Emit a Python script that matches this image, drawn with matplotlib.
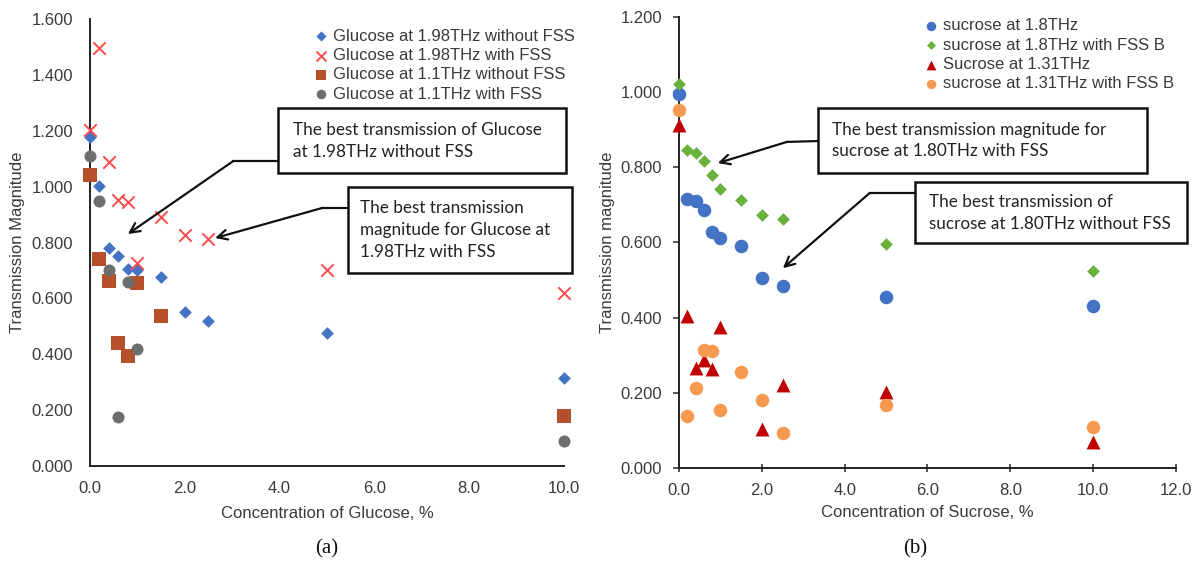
import matplotlib
matplotlib.use("Agg")
import matplotlib.pyplot as plt
from matplotlib.patches import Rectangle
from matplotlib.lines import Line2D

plt.rcParams['font.family'] = ['Liberation Sans', 'DejaVu Sans']

# ---------------- data: glucose (a) ----------------
glu_x_198_no = [0, 0.2, 0.4, 0.6, 0.8, 1.0, 1.5, 2.0, 2.5, 5.0, 10.0]
glu_y_198_no = [1.178, 1.003, 0.782, 0.752, 0.705, 0.703, 0.676, 0.553, 0.520, 0.477, 0.316]
glu_x_198_fss = [0, 0.2, 0.4, 0.6, 0.8, 1.0, 1.5, 2.0, 2.5, 5.0, 10.0]
glu_y_198_fss = [1.203, 1.497, 1.088, 0.952, 0.945, 0.726, 0.891, 0.826, 0.811, 0.701, 0.620]
glu_x_11_no = [0, 0.2, 0.4, 0.6, 0.8, 1.0, 1.5, 10.0]
glu_y_11_no = [1.043, 0.742, 0.662, 0.440, 0.394, 0.655, 0.538, 0.180]
glu_x_11_fss = [0, 0.2, 0.4, 0.6, 0.8, 1.0, 10.0]
glu_y_11_fss = [1.108, 0.950, 0.700, 0.175, 0.658, 0.418, 0.088]

# ---------------- data: sucrose (b) ----------------
suc_x = [0, 0.2, 0.4, 0.6, 0.8, 1.0, 1.5, 2.0, 2.5, 5.0, 10.0]
suc_y_18 = [0.995, 0.717, 0.710, 0.687, 0.627, 0.613, 0.590, 0.506, 0.483, 0.455, 0.430]
suc_y_18_fss = [1.022, 0.845, 0.838, 0.817, 0.780, 0.742, 0.713, 0.674, 0.662, 0.597, 0.523]
suc_y_131_fss = [0.952, 0.137, 0.213, 0.313, 0.310, 0.154, 0.255, 0.181, 0.093, 0.168, 0.108]
tri_x = [0, 0.2, 0.4, 0.6, 0.8, 1.0, 2.0, 2.5, 5.0, 10.0]
tri_y = [0.912, 0.405, 0.267, 0.288, 0.264, 0.375, 0.103, 0.222, 0.202, 0.070]

glu_labels = ['Glucose at 1.98THz without FSS', 'Glucose at 1.98THz with FSS',
              'Glucose at 1.1THz without FSS', 'Glucose at 1.1THz with FSS']
suc_labels = ['sucrose at 1.8THz', 'sucrose at 1.8THz with FSS B',
              'Sucrose at 1.31THz', 'sucrose at 1.31THz with FSS B']

TXT = '#3a3a3a'
FS = 12

fig = plt.figure(figsize=(11.95, 5.61), dpi=100)
axL = fig.add_axes([0.0753, 0.1693, 0.3966, 0.7968])
axR = fig.add_axes([0.5682, 0.1658, 0.4159, 0.8039])

# ---- left plot ----
kw = dict(zorder=3, clip_on=False)
axL.scatter(glu_x_198_no, glu_y_198_no, marker='D', s=42, color='#4472C4', label=glu_labels[0], linewidths=0, **kw)
axL.scatter(glu_x_198_fss, glu_y_198_fss, marker='x', s=80, color='#FF4B4B', label=glu_labels[1], linewidths=1.4, **kw)
axL.scatter(glu_x_11_no, glu_y_11_no, marker='s', s=95, color='#B5502A', label=glu_labels[2], linewidths=0, **kw)
axL.scatter(glu_x_11_fss, glu_y_11_fss, marker='o', s=75, color='#6E6E6E', label=glu_labels[3], linewidths=0, **kw)
axL.set_xlim(0, 10)
axL.set_ylim(0, 1.6)
axL.set_xticks([0, 2, 4, 6, 8, 10])
axL.set_xticklabels(['0.0', '2.0', '4.0', '6.0', '8.0', '10.0'])
yt = [0, 0.2, 0.4, 0.6, 0.8, 1.0, 1.2, 1.4, 1.6]
axL.set_yticks(yt)
axL.set_yticklabels(['%.3f' % v for v in yt])
axL.tick_params(axis='y', length=0, pad=12, labelsize=FS, colors=TXT)
axL.tick_params(axis='x', length=0, pad=11, labelsize=FS, colors=TXT)
axL.set_xlabel('Concentration of Glucose, %', fontsize=FS, color=TXT, labelpad=7)
axL.set_ylabel('Transmission Magnitude', fontsize=FS, color=TXT, labelpad=5)
for s in ['top', 'right']:
    axL.spines[s].set_visible(False)
for s in ['left', 'bottom']:
    axL.spines[s].set_color('#222222')
    axL.spines[s].set_linewidth(1.4)
legL = axL.legend(loc='upper left', bbox_to_anchor=(0.449, 0.993), frameon=False, fontsize=FS,
                  handletextpad=0.0, labelspacing=0.26, borderaxespad=0, handlelength=1.4,
                  markerscale=0.8)
for t in legL.get_texts():
    t.set_color(TXT)

# ---- right plot ----
axR.scatter(suc_x, suc_y_18, marker='o', s=95, color='#4472C4', label=suc_labels[0], linewidths=0, **kw)
axR.scatter(suc_x, suc_y_18_fss, marker='D', s=42, color='#6AB03C', label=suc_labels[1], linewidths=0, **kw)
axR.scatter(tri_x, tri_y, marker='^', s=100, color='#C00000', label=suc_labels[2], linewidths=0, **kw)
axR.scatter(suc_x, suc_y_131_fss, marker='o', s=95, color='#F79A50', label=suc_labels[3], linewidths=0, **kw)
axR.set_xlim(0, 12)
axR.set_ylim(0, 1.2)
axR.set_xticks([0, 2, 4, 6, 8, 10, 12])
axR.set_xticklabels(['0.0', '2.0', '4.0', '6.0', '8.0', '10.0', '12.0'])
ytr = [0, 0.2, 0.4, 0.6, 0.8, 1.0, 1.2]
axR.set_yticks(ytr)
axR.set_yticklabels(['%.3f' % v for v in ytr])
axR.tick_params(axis='y', direction='out', length=4, width=1.2, pad=8, labelsize=FS, colors=TXT)
axR.tick_params(axis='x', direction='inout', length=6, width=1.2, pad=8, labelsize=FS, colors=TXT)
axR.set_xlabel('Concentration of Sucrose, %', fontsize=FS, color=TXT, labelpad=5)
axR.set_ylabel('Transmission magnitude', fontsize=FS, color=TXT, labelpad=4)
for s in ['top', 'right']:
    axR.spines[s].set_visible(False)
for s in ['left', 'bottom']:
    axR.spines[s].set_color('#222222')
    axR.spines[s].set_linewidth(1.4)
legR = axR.legend(loc='upper left', bbox_to_anchor=(0.47, 1.012), frameon=False, fontsize=FS,
                  handletextpad=0.0, labelspacing=0.26, borderaxespad=0, handlelength=1.4,
                  markerscale=0.7)
for t in legR.get_texts():
    t.set_color(TXT)


def callout(ax, box, text_xy, text, path, fs=12.3):
    x0, y0, x1, y1 = box
    ax.add_patch(Rectangle((x0, y0), x1 - x0, y1 - y0, transform=ax.transAxes,
                           fill=True, facecolor='white', edgecolor='#111111', lw=1.8,
                           clip_on=False, zorder=5))
    ax.text(text_xy[0], text_xy[1], text, transform=ax.transAxes, ha='left', va='center',
            fontsize=fs, family=['Lato', 'DejaVu Sans'], color='#222222', linespacing=1.45,
            zorder=6)
    (ax_, ay_), (bx, by), (cx, cy) = path
    ax.add_line(Line2D([ax_, bx], [ay_, by], transform=ax.transAxes, color='#111111', lw=1.6,
                       clip_on=False, zorder=4))
    ax.annotate('', xy=(cx, cy), xycoords='axes fraction', xytext=(bx, by),
                textcoords='axes fraction',
                arrowprops=dict(arrowstyle='->,head_length=0.7,head_width=0.35', color='#111111',
                                lw=1.6, shrinkA=0, shrinkB=0), zorder=4)


callout(axL, (0.397, 0.655, 1.004, 0.801), (0.428, 0.728),
        'The best transmission of Glucose\nat 1.98THz without FSS',
        [(0.397, 0.682), (0.302, 0.682), (0.080, 0.519)])
callout(axL, (0.544, 0.432, 1.017, 0.624), (0.570, 0.528),
        'The best transmission\nmagnitude for Glucose at\n1.98THz with FSS',
        [(0.544, 0.577), (0.489, 0.577), (0.264, 0.510)])
callout(axR, (0.280, 0.654, 0.942, 0.798), (0.308, 0.726),
        'The best transmission magnitude for\nsucrose at 1.80THz with FSS',
        [(0.280, 0.725), (0.217, 0.723), (0.078, 0.676)])
callout(axR, (0.475, 0.499, 1.022, 0.634), (0.503, 0.566),
        'The best transmission of\nsucrose at 1.80THz without FSS',
        [(0.475, 0.610), (0.384, 0.610), (0.209, 0.443)])

fig.text(327 / 1195, 1 - 549 / 561, '(a)', ha='center', va='center', fontsize=15,
         family=['Liberation Serif', 'DejaVu Serif'], color='#111111')
fig.text(915 / 1195, 1 - 549 / 561, '(b)', ha='center', va='center', fontsize=15,
         family=['Liberation Serif', 'DejaVu Serif'], color='#111111')

fig.savefig('out.png', dpi=100, facecolor='white')
